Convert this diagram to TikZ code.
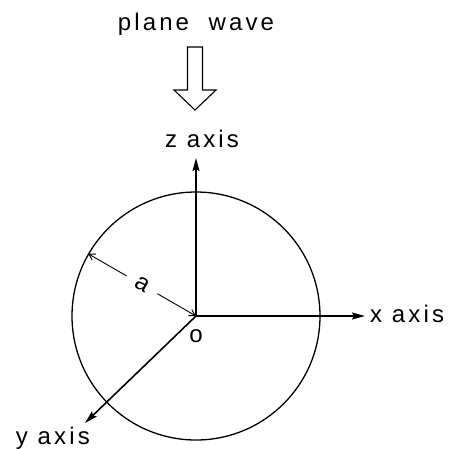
\documentclass[tikz,border=0pt]{standalone}
\usepackage{fontspec}
\setmainfont{Liberation Sans}[LetterSpace=13]
\usepackage{tikz}
\usetikzlibrary{arrows.meta, positioning}
\tikzstyle{tag} = [inner sep=0pt, font=\fontsize{24}{28}\selectfont]
\tikzstyle{sphere} = [circle, draw=black, line width=1.3pt, minimum size=248pt, inner sep=0pt]
\tikzstyle{axis} = [line width=1.6pt, -{Stealth[length=13pt, width=7pt, inset=2pt]}]
\tikzstyle{radius} = [line width=0.9pt, {Straight Barb[length=6pt, width=7pt]}-{Straight Barb[length=6pt, width=7pt]}]
\tikzstyle{wave} = [line width=1.1pt, draw=black, fill=white]

\begin{document}
\begin{tikzpicture}[x=1pt, y=1pt]
                \useasboundingbox (0,0) rectangle (456,-448);
                \coordinate (o) at (196,-316);
                \node (ball) [sphere] at (o) {};

                \coordinate (ztip) at (196,-158);
                \coordinate (xtip) at (365,-316);
                \coordinate (ytip) at (85,-423);
                \node (zlab) [tag, above=10pt of ztip, xshift=6pt] {z axis};
                \node (xlab) [tag, right=5pt of xtip, yshift=2.5pt] {x axis};
                \node (ylab) [tag, below=3.5pt of ytip, anchor=north east, xshift=5pt] {y axis};
                \node (olab) [tag, below=13pt of o] {o};

                \draw [axis] (o) -- (ztip);
                \draw [axis] (o) -- (xtip);
                \draw [axis] (o) -- (ytip);
                \draw [radius] (ball.150.5) -- node[tag, sloped, fill=white, inner sep=11pt] {a} (o);

                % incoming wave
                \node (wavelab) [tag] at (196,-24) {plane\ \ wave};
                \coordinate (wavetip) at (195,-110);
                \draw [wave] (wavetip) -- ++(-21,20) -- ++(13.5,0) -- ++(0,43) -- ++(15,0)
                    -- ++(0,-43) -- ++(13.5,0) -- cycle;
            \end{tikzpicture}
\end{document}
